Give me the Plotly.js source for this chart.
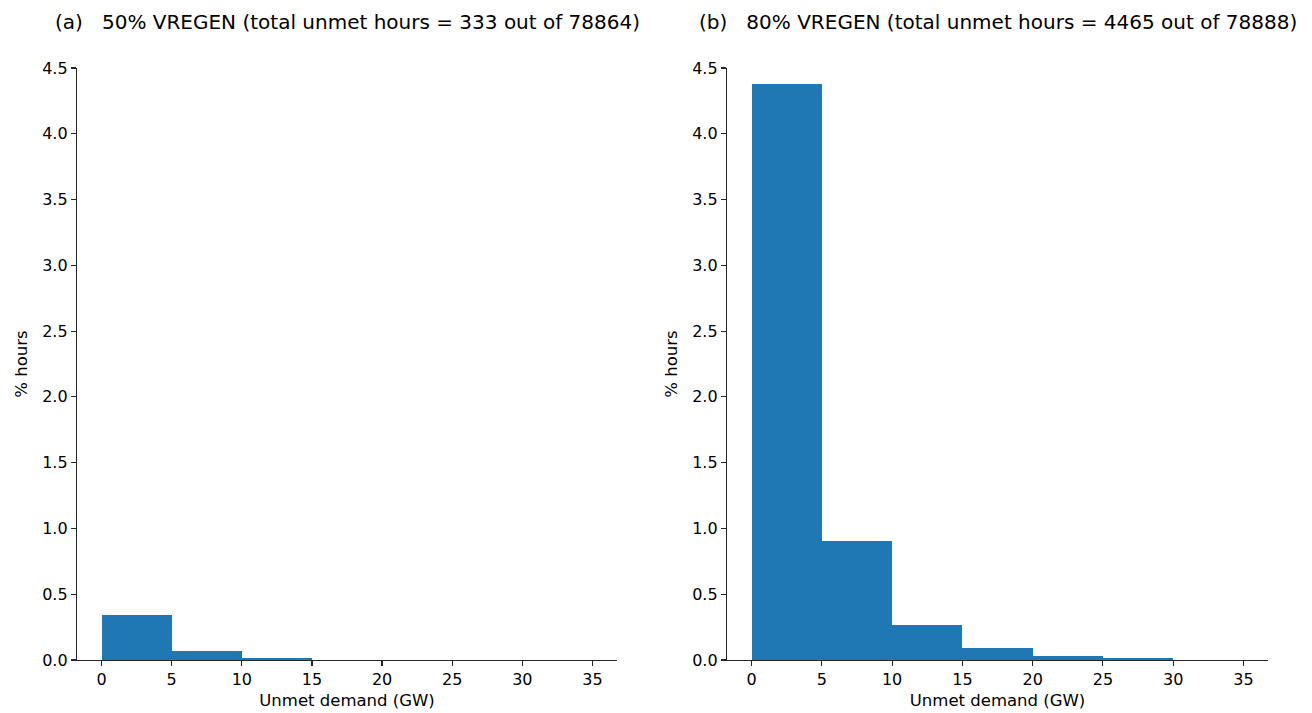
<!DOCTYPE html>
<html>
<head>
<meta charset="utf-8">
<script src="https://cdn.plot.ly/plotly-3.0.1.min.js"></script>
<style>
  html, body { margin: 0; padding: 0; background: #fff; }
  #chart { width: 1312px; height: 713px; }
</style>
</head>
<body>
<div id="chart"></div>
<script>
// Histogram bins of unmet demand (GW), 5 GW wide
const binStarts = [0, 5, 10, 15, 20, 25, 30];
const binWidth = 5;

// Share of hours (%) falling in each bin
const pctHours50 = [0.342, 0.066, 0.014, 0, 0, 0, 0];
const pctHours80 = [4.375, 0.905, 0.264, 0.094, 0.033, 0.013, 0];

// Panel titles (non-breaking spaces keep the gap after the panel letter)
const panelTitles = [
  '(a)\u00a0\u00a0\u00a050% VREGEN (total unmet hours = 333 out of 78864)',
  '(b)\u00a0\u00a0\u00a080% VREGEN (total unmet hours = 4465 out of 78888)'
];
const xTitle = 'Unmet demand (GW)';
const yTitle = '% hours';
const xTicks = [0, 5, 10, 15, 20, 25, 30, 35];
const yTicks = [0, 0.5, 1.0, 1.5, 2.0, 2.5, 3.0, 3.5, 4.0, 4.5];

const W = 1312, H = 713;
const FONT = 'DejaVu Sans, sans-serif';
const BLUE = '#1f77b4';
const AX = '#262626';

function barTrace(vals, xa, ya) {
  return {
    type: 'bar',
    x: binStarts,
    y: vals,
    width: binStarts.map(() => binWidth),
    offset: 0,
    marker: { color: BLUE, line: { width: 0 } },
    xaxis: xa, yaxis: ya,
    hoverinfo: 'x+y',
    showlegend: false
  };
}

function xAxis(domain, anchor) {
  return {
    domain: domain, anchor: anchor,
    range: [-1.75, 36.75],
    tickvals: xTicks,
    ticks: 'outside', ticklen: 5, tickwidth: 1.2, tickcolor: AX,
    showline: true, linecolor: AX, linewidth: 1.2, mirror: false,
    showgrid: false, zeroline: false,
    tickfont: { family: FONT, size: 16, color: '#000' },
    title: { text: xTitle, font: { family: FONT, size: 16.5, color: '#000' }, standoff: 6 },
    automargin: false, fixedrange: true
  };
}

function yAxis(domain, anchor) {
  return {
    domain: domain, anchor: anchor,
    range: [0, 4.5],
    tickvals: yTicks,
    tickformat: '.1f',
    ticks: 'outside', ticklen: 5, tickwidth: 1.2, tickcolor: AX,
    showline: true, linecolor: AX, linewidth: 1.2, mirror: false,
    showgrid: false, zeroline: false,
    tickfont: { family: FONT, size: 16, color: '#000' },
    title: { text: yTitle, font: { family: FONT, size: 16.5, color: '#000' }, standoff: 10 },
    automargin: false, fixedrange: true
  };
}

const yDom = [1 - 660 / H, 1 - 68 / H];
const xDomA = [77 / W, 617 / W];
const xDomB = [727 / W, 1268 / W];

function panelTitle(text, dom) {
  return {
    text: text, xref: 'paper', yref: 'paper',
    x: (dom[0] + dom[1]) / 2, y: 1 - 22.5 / H, xanchor: 'center', yanchor: 'middle',
    showarrow: false, font: { family: FONT, size: 20, color: '#000' }
  };
}

const layout = {
  width: W, height: H,
  margin: { l: 0, r: 0, t: 0, b: 0 },
  paper_bgcolor: '#fff', plot_bgcolor: '#fff',
  bargap: 0,
  font: { family: FONT, size: 16, color: '#000' },
  xaxis: xAxis(xDomA, 'y'),
  yaxis: yAxis(yDom, 'x'),
  xaxis2: xAxis(xDomB, 'y2'),
  yaxis2: yAxis(yDom, 'x2'),
  annotations: [
    panelTitle(panelTitles[0], xDomA),
    panelTitle(panelTitles[1], xDomB)
  ]
};

Plotly.newPlot('chart', [
  barTrace(pctHours50, 'x', 'y'),
  barTrace(pctHours80, 'x2', 'y2')
], layout, { displayModeBar: false, staticPlot: true });
</script>
</body>
</html>
